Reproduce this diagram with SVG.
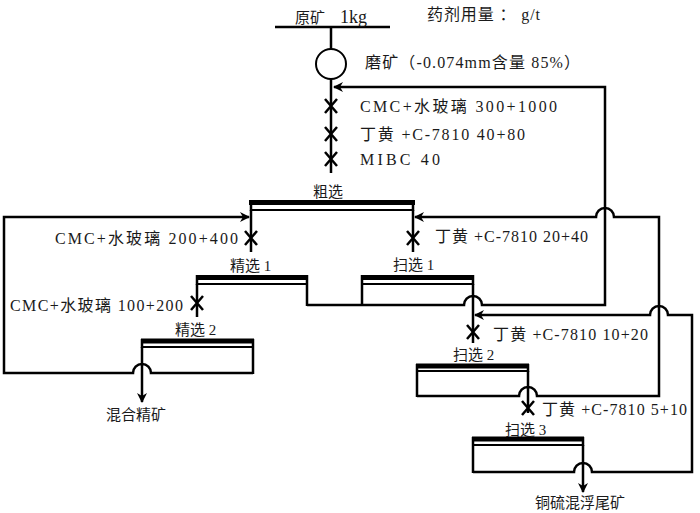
<svg xmlns="http://www.w3.org/2000/svg" width="700" height="513" viewBox="0 0 700 513">
<style>
.ln{fill:none;stroke:#000;stroke-width:2.5}
.bar{fill:none;stroke:#000;stroke-width:5}
.thin{fill:none;stroke:#000;stroke-width:2}
.x{fill:none;stroke:#000;stroke-width:2.5}
text{font-family:"Liberation Serif","Noto Sans CJK SC",serif;font-size:15px;fill:#1a1a1a}
.rg{font-size:16px}
</style>
<defs>
<marker id="ah" viewBox="0 0 10 10" refX="9" refY="5" markerWidth="10" markerHeight="10" markerUnits="userSpaceOnUse" orient="auto">
<path d="M0,0 L10,5 L0,10 L3,5 z" fill="#000"/>
</marker>
</defs>
<rect width="700" height="513" fill="#fff"/>

<g id="connectors">
<path class="ln" d="M275 27 H390"/>
<path class="ln" d="M331 27 V49"/>
<path class="ln" d="M331 79 V173"/>
<path class="ln" d="M307 305 H464 A9 9 0 0 1 482 305 H605 V87 H334" marker-end="url(#ah)"/>
<path class="ln" d="M417 396 H519 A9 9 0 0 1 537 396 H659 V217 H614 A9 9 0 0 0 596 217 H415" marker-end="url(#ah)"/>
<path class="ln" d="M473 472 H574 A9 9 0 0 1 592 472 H692 V315 H668 A9 9 0 0 0 650 315 H475" marker-end="url(#ah)"/>
<path class="ln" d="M253 373 H151 A9 9 0 0 0 133 373 H4 V217 H249" marker-end="url(#ah)"/>
<path class="ln" d="M251 210 V252"/>
<path class="ln" d="M413 210 V252"/>
<path class="ln" d="M197 284 V317"/>
<path class="ln" d="M473 284 V343"/>
<path class="ln" d="M528 371 V413"/>
<path class="ln" d="M142 347 V402" marker-end="url(#ah)"/>
<path class="ln" d="M583 445 V492" marker-end="url(#ah)"/>
<path class="x" d="M325 99 L337 113 M337 99 L325 113"/>
<path class="x" d="M325 127 L337 141 M337 127 L325 141"/>
<path class="x" d="M325 152 L337 166 M337 152 L325 166"/>
<path class="x" d="M245 231 L257 245 M257 231 L245 245"/>
<path class="x" d="M407 231 L419 245 M419 231 L407 245"/>
<path class="x" d="M191 296 L203 310 M203 296 L191 310"/>
<path class="x" d="M467 325 L479 339 M479 325 L467 339"/>
<path class="x" d="M522 401 L534 415 M534 401 L522 415"/>
</g>

<g id="feed">
<text x="295" y="23" font-size="16">原矿<tspan x="340" font-size="18">1kg</tspan></text>
</g>
<g id="units-note">
<text x="427" y="20" class="rg" textLength="113" lengthAdjust="spacing">药剂用量 ： g/t</text>
</g>
<g id="grinding">
<circle cx="331" cy="64" r="15" fill="#fff" stroke="#000" stroke-width="2"/>
<text x="365" y="68" class="rg" textLength="215" lengthAdjust="spacing">磨矿（-0.074mm含量 85%）</text>
</g>
<g id="reagents-rougher">
<text x="360" y="112" class="rg" textLength="197" lengthAdjust="spacing">CMC+水玻璃   300+1000</text>
<text x="360" y="140" class="rg" textLength="165" lengthAdjust="spacing">丁黄 +C-7810  40+80</text>
<text x="360" y="165" class="rg" textLength="80" lengthAdjust="spacing">MIBC  40</text>
</g>

<g id="rougher">
<path class="bar" d="M249 202.5 H415"/>
<path class="thin" d="M251 210 H413"/>
<path class="ln" d="M251 200 V211 M413 200 V211"/>
<text x="313" y="197">粗选</text>
</g>

<g id="cleaner1">
<path class="bar" d="M196 277.5 H308"/>
<path class="thin" d="M197 284 H307"/>
<path class="ln" d="M197 275 V285 M307 275 V306"/>
<text x="230" y="271">精选 1</text>
<text x="55" y="244" class="rg" textLength="183" lengthAdjust="spacing">CMC+水玻璃  200+400</text>
</g>

<g id="scavenger1">
<path class="bar" d="M361 277.5 H474"/>
<path class="thin" d="M362 284 H473"/>
<path class="ln" d="M362 275 V306 M473 275 V285"/>
<text x="393" y="270">扫选 1</text>
<text x="435" y="242" class="rg" textLength="153" lengthAdjust="spacing">丁黄 +C-7810 20+40</text>
</g>

<g id="cleaner2">
<path class="bar" d="M141 341 H254"/>
<path class="thin" d="M142 347 H253"/>
<path class="ln" d="M142 339 V348 M253 339 V374"/>
<text x="175" y="335">精选 2</text>
<text x="10" y="311" class="rg" textLength="173" lengthAdjust="spacing">CMC+水玻璃 100+200</text>
</g>

<g id="scavenger2">
<path class="bar" d="M416 366 H529"/>
<path class="thin" d="M417 371 H528"/>
<path class="ln" d="M417 364 V397 M528 364 V372"/>
<text x="453" y="360">扫选 2</text>
<text x="493" y="340" class="rg" textLength="155" lengthAdjust="spacing">丁黄 +C-7810 10+20</text>
</g>

<g id="scavenger3">
<path class="bar" d="M472 439 H584"/>
<path class="thin" d="M473 445 H583"/>
<path class="ln" d="M473 437 V473 M583 437 V446"/>
<text x="505" y="435">扫选 3</text>
<text x="542" y="415" class="rg" textLength="145" lengthAdjust="spacing">丁黄 +C-7810 5+10</text>
</g>

<g id="concentrate">
<text x="106" y="420">混合精矿</text>
</g>
<g id="tailings">
<text x="535" y="508" font-size="16">铜硫混浮尾矿</text>
</g>
</svg>
